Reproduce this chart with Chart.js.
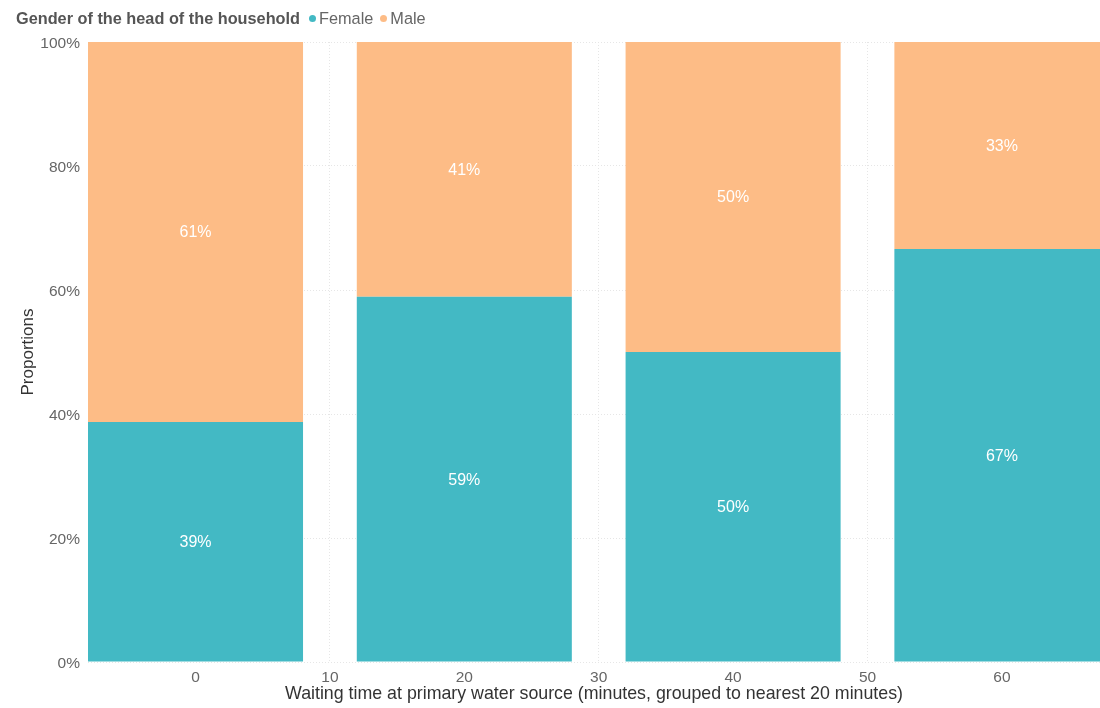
<!DOCTYPE html>
<html><head><meta charset="utf-8">
<script src="https://cdn.jsdelivr.net/npm/chart.js@4/dist/chart.umd.min.js"></script>
<style>
html,body{margin:0;padding:0;background:#fff;}
#wrap{position:relative;width:1100px;height:708px;}
#legend{position:absolute;left:16px;top:8px;font-family:"Liberation Sans",Arial,sans-serif;font-size:16.3px;color:#666;white-space:nowrap;line-height:20px;}
#legend b{color:#555;font-weight:bold;margin-right:7px;}
.dot{display:inline-block;width:7px;height:7px;border-radius:50%;margin:0 3px 2px 2px;vertical-align:middle;}
.item{margin-right:5px;}
</style></head>
<body><div id="wrap"><div id="legend"></div><canvas id="c" width="1100" height="708"></canvas></div>
<script>
const categories = [0, 20, 40, 60];
const femaleValues = [38.7, 58.9, 50.0, 66.6];
const maleValues = [61.3, 41.1, 50.0, 33.4];
const seriesNames = ["Female", "Male"];
const legendTitle = "Gender of the head of the household";
const xTickValues = [0, 10, 20, 30, 40, 50, 60];
const yTickValues = [0, 20, 40, 60, 80, 100];
const xTitle = "Waiting time at primary water source (minutes, grouped to nearest 20 minutes)";
const yTitle = "Proportions";
const colors = ["#43B9C4", "#FDBC86"];

const leg = document.getElementById('legend');
leg.innerHTML = '<b>' + legendTitle + '</b>' + seriesNames.map((n,i)=>
  '<span class="item"><span class="dot" style="background:'+colors[i]+'"></span>'+n+'</span>').join('');

const labelPlugin = {
  id: 'segLabels',
  afterDatasetsDraw(chart) {
    const ctx = chart.ctx;
    ctx.save();
    ctx.font = '16px "Liberation Sans", Arial, sans-serif';
    ctx.fillStyle = '#fff';
    ctx.textAlign = 'center';
    ctx.textBaseline = 'middle';
    chart.data.datasets.forEach((ds, di) => {
      chart.getDatasetMeta(di).data.forEach((el, i) => {
        const v = ds.data[i].y;
        const cy = (el.y + el.base) / 2 + 1;
        ctx.fillText(Math.round(v) + '%', el.x, cy);
      });
    });
    ctx.restore();
  }
};

const font = {family: '"Liberation Sans", Arial, sans-serif', size: 15.5};
new Chart(document.getElementById('c'), {
  type: 'bar',
  data: {
    datasets: [
      {label: seriesNames[0], data: categories.map((c,i)=>({x:c, y:femaleValues[i]})), backgroundColor: colors[0]},
      {label: seriesNames[1], data: categories.map((c,i)=>({x:c, y:maleValues[i]})), backgroundColor: colors[1]}
    ]
  },
  options: {
    responsive: false,
    animation: false,
    layout: {padding: {top: 42, left: 0, right: 0, bottom: 0}},
    datasets: {bar: {barPercentage: 1, categoryPercentage: 1.6}},
    plugins: {legend: {display: false}, tooltip: {enabled: false}},
    scales: {
      x: {
        type: 'linear', stacked: true, min: -8, max: 67.3, offset: false,
        afterBuildTicks(s) { s.ticks = xTickValues.map(v => ({value: v})); },
        afterFit(s) { s.height = 46; },
        grid: {color: '#e6e6e6', lineWidth: 1, drawTicks: false, offset: false},
        border: {display: false, dash: [1, 2]},
        ticks: {color: '#666', font: font, padding: 6, maxRotation: 0, autoSkip: false},
        title: {display: true, text: xTitle, color: '#333', font: {family: font.family, size: 17.8}, padding: {top: 0, bottom: 3}}
      },
      y: {
        stacked: true, min: 0, max: 100,
        afterBuildTicks(s) { s.ticks = yTickValues.map(v => ({value: v})); },
        afterFit(s) { s.width = 88; },
        grid: {color: '#e6e6e6', lineWidth: 1, drawTicks: false},
        border: {display: false, dash: [1, 2]},
        ticks: {color: '#666', font: font, padding: 8, labelOffset: 2, callback: v => v + '%'},
        title: {display: true, text: yTitle, color: '#333', font: {family: font.family, size: 17}, padding: {top: 18, bottom: 0}}
      }
    }
  },
  plugins: [labelPlugin]
});
</script></body></html>
